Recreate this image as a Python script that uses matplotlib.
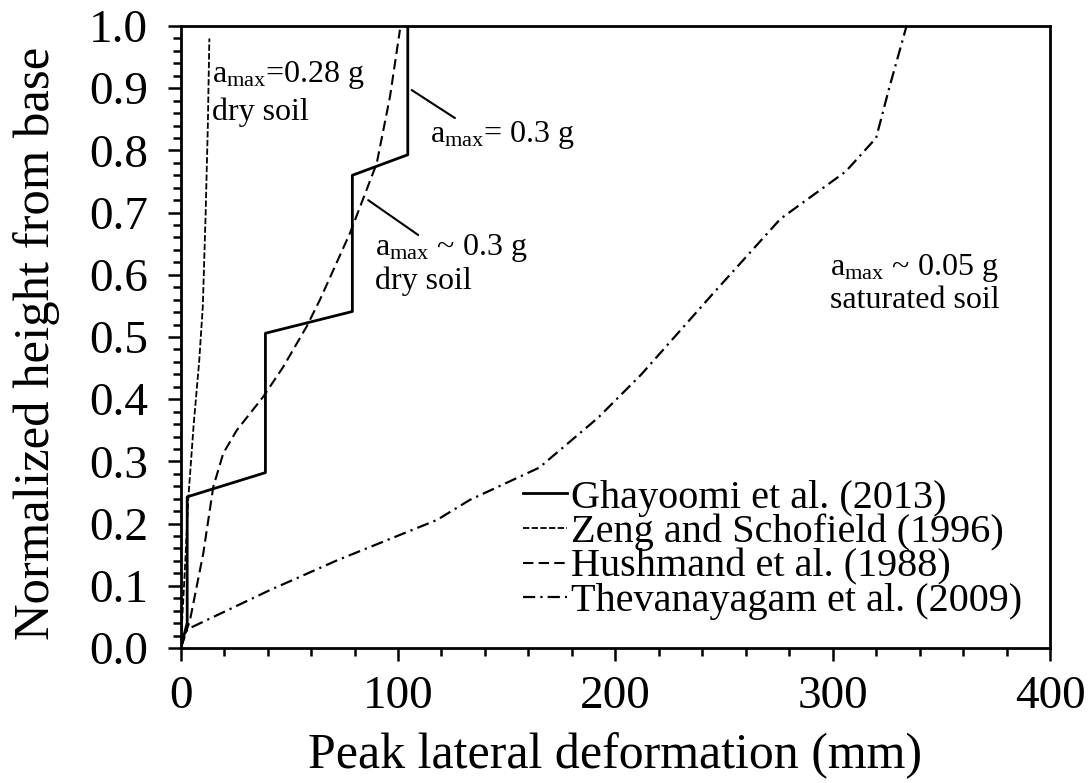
import matplotlib
matplotlib.use("Agg")
import matplotlib.pyplot as plt
from matplotlib.ticker import MultipleLocator, FormatStrFormatter

plt.rcParams['font.family'] = ['Liberation Serif', 'DejaVu Serif']
plt.rcParams['mathtext.fontset'] = 'custom'
plt.rcParams['mathtext.rm'] = 'Liberation Serif'
plt.rcParams['mathtext.it'] = 'Liberation Serif'

ghayoomi_x = [0, 3, 3, 39, 39, 79, 79, 104.5, 104.5]
ghayoomi_y = [0, 0.04, 0.243, 0.282, 0.506, 0.541, 0.760, 0.793, 1.0]

zeng_x = [0, 2, 3.5, 6, 8.5, 10.2, 11.5, 12.5, 13.2]
zeng_y = [0, 0.13, 0.24, 0.36, 0.46, 0.55, 0.70, 0.84, 0.98]

hushmand_x = [0, 4.3, 10.4, 15, 19.6, 25.8, 38, 47.2, 58, 64.1, 77.9, 90.2, 96.3, 100.9]
hushmand_y = [0, 0.045, 0.152, 0.259, 0.313, 0.35, 0.404, 0.452, 0.517, 0.56, 0.667, 0.779, 0.886, 0.994]

theva_x = [0, 3, 41, 72, 118, 133, 165, 192, 212, 245, 276, 306, 320, 326, 334]
theva_y = [0, 0.03, 0.093, 0.141, 0.206, 0.238, 0.29, 0.37, 0.44, 0.57, 0.69, 0.766, 0.82, 0.90, 1.0]

labels = ['Ghayoomi et al. (2013)', 'Zeng and Schofield (1996)',
          'Hushmand et al. (1988)', 'Thevanayagam et al. (2009)']

fig = plt.figure(figsize=(10.91, 7.83), dpi=100)
ax = fig.add_axes([0.1656, 0.1724, 0.7968, 0.7944])

ax.plot(ghayoomi_x, ghayoomi_y, color='black', lw=2.0, label=labels[0])
ax.plot(zeng_x, zeng_y, color='black', lw=1.3, dashes=(3.5, 1.3), label=labels[1])
ax.plot(hushmand_x, hushmand_y, color='black', lw=1.5, dashes=(5, 2.5), label=labels[2])
ax.plot(theva_x, theva_y, color='black', lw=1.6, dashes=(5.5, 2.3, 1, 2.3), label=labels[3])

ax.set_xlim(0, 400)
ax.set_ylim(0, 1.0)
ax.xaxis.set_major_locator(MultipleLocator(100))
ax.xaxis.set_minor_locator(MultipleLocator(20))
ax.yaxis.set_major_locator(MultipleLocator(0.1))
ax.yaxis.set_minor_locator(MultipleLocator(0.02))
ax.yaxis.set_major_formatter(FormatStrFormatter('%.1f'))

ax.tick_params(which='major', direction='out', length=9.5, width=1.8, labelsize=34, pad=10)
ax.tick_params(axis='y', which='major', pad=14)
ax.tick_params(which='minor', direction='out', length=6, width=1.8)
for s in ax.spines.values():
    s.set_linewidth(2)

ax.set_xlabel('Peak lateral deformation (mm)', fontsize=36)
ax.set_ylabel('Normalized height from base', fontsize=36.5)
ax.xaxis.set_label_coords(0.5, -0.135)
ax.yaxis.set_label_coords(-0.139, 0.49)

# annotations
fs = 23
ax.text(14.3, 0.921, 'a$_{\\rm max}$=0.28 g', fontsize=fs, va='center')
ax.text(14.3, 0.862, 'dry soil', fontsize=fs, va='center')
ax.text(114.7, 0.825, 'a$_{\\rm max}$= 0.3 g', fontsize=fs, va='center')
ax.text(89.4, 0.643, 'a$_{\\rm max}$ ~ 0.3 g', fontsize=fs, va='center')
ax.text(89.4, 0.590, 'dry soil', fontsize=fs, va='center')
ax.text(298.8, 0.611, 'a$_{\\rm max}$ ~ 0.05 g', fontsize=fs, va='center')
ax.text(298.8, 0.559, 'saturated soil', fontsize=fs, va='center')
ax.annotate('', xy=(106.3, 0.897), xytext=(126.2, 0.852),
            arrowprops=dict(arrowstyle='-', lw=1.5, color='black', shrinkA=0, shrinkB=0))
ax.annotate('', xy=(86.3, 0.72), xytext=(109.3, 0.664),
            arrowprops=dict(arrowstyle='-', lw=1.5, color='black', shrinkA=0, shrinkB=0))

ax.legend(loc='lower right', bbox_to_anchor=(0.968, 0.045), frameon=False,
          fontsize=29, handlelength=1.1, handletextpad=0.1, labelspacing=-0.07,
          borderpad=0, borderaxespad=0)

fig.savefig('out.png', dpi=100)
